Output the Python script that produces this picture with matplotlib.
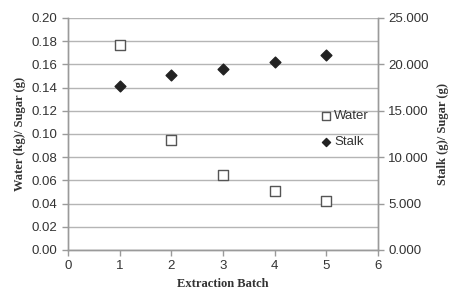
import matplotlib
matplotlib.use("Agg")
import matplotlib.pyplot as plt
from matplotlib.ticker import FormatStrFormatter, MultipleLocator

batch = [1, 2, 3, 4, 5]
water = [0.177, 0.095, 0.065, 0.051, 0.042]
stalk = [17.7, 18.9, 19.5, 20.3, 21.0]

fig = plt.figure(figsize=(4.63, 2.94), dpi=100)
ax = fig.add_axes([68/463, 44/294, 310/463, 232/294])
ax2 = ax.twinx()

tick_font = dict(family="Liberation Sans", size=9.5, color="#333333")
lab_font = dict(family="Liberation Serif", size=9, weight="bold", color="#333333")
grey = "#9a9a9a"

ax.set_xlim(0, 6)
ax.set_ylim(0, 0.20)
ax2.set_ylim(0, 25)
ax.yaxis.set_major_locator(MultipleLocator(0.02))
ax.xaxis.set_major_locator(MultipleLocator(1))
ax2.yaxis.set_major_locator(MultipleLocator(5))
ax.yaxis.set_major_formatter(FormatStrFormatter("%.2f"))
ax2.yaxis.set_major_formatter(FormatStrFormatter("%.3f"))

ax.grid(axis="y", color="#b5b5b5", linewidth=1.0)
ax.set_axisbelow(True)

for a in (ax, ax2):
    for s in a.spines.values():
        s.set_color(grey)
        s.set_linewidth(1.0)
    a.spines["top"].set_visible(False)
    a.tick_params(colors=grey, length=4, width=1.0, direction="out")

for lab in ax.get_xticklabels() + ax.get_yticklabels() + ax2.get_yticklabels():
    lab.set_fontfamily(tick_font["family"])
    lab.set_fontsize(tick_font["size"])
    lab.set_color(tick_font["color"])

h1 = ax.scatter(batch, water, marker="s", s=55, facecolors="white",
                edgecolors="#555555", linewidths=1.0, zorder=3, label="Water")
h2 = ax2.scatter(batch, stalk, marker="D", s=30, color="#222222", zorder=3, label="Stalk")

ax.set_xlabel("Extraction Batch", **lab_font, labelpad=4)
ax.set_ylabel("Water (kg)/ Sugar (g)", **lab_font, labelpad=4)
ax2.set_ylabel("Stalk (g)/ Sugar (g)", **lab_font, labelpad=6)

leg = ax2.legend(handles=[h1, h2], loc="upper left", bbox_to_anchor=(0.79, 0.632),
                 frameon=False, handletextpad=0.1, borderpad=0, labelspacing=1.05,
                 prop=dict(family="Liberation Sans", size=9.5), handlelength=1.0,
                 markerscale=0.75)
for t in leg.get_texts():
    t.set_color("#333333")

fig.savefig("out.png", dpi=100)
